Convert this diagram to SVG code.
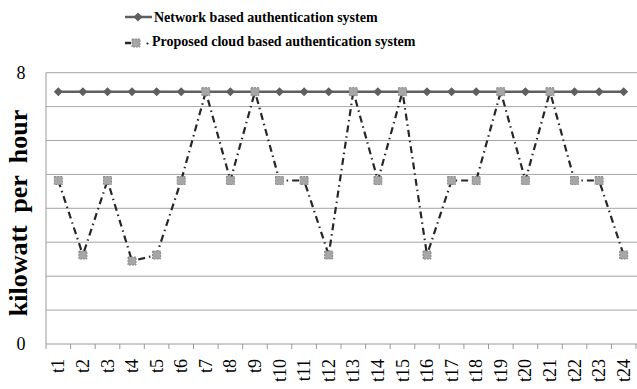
<svg xmlns="http://www.w3.org/2000/svg" xmlns:xlink="http://www.w3.org/1999/xlink" width="637" height="389" viewBox="0 0 637 389">
<style>
.grid{stroke:#a6a6a6;stroke-width:1;fill:none}
.axis{stroke:#9a9a9a;stroke-width:1;fill:none}
.net{stroke:#5f5f5f;stroke-width:2.5;fill:none}
.prop{stroke:#262626;stroke-width:2.2;fill:none;stroke-dasharray:7 4 1.5 4}
.lbl{font-family:"Liberation Serif",serif;font-size:18px;fill:#000}
.leg{font-family:"Liberation Serif",serif;font-size:14px;font-weight:bold;fill:#000}
.ttl{font-family:"Liberation Serif",serif;font-size:26px;font-weight:bold;fill:#000;word-spacing:6px}
</style>
<defs>
<path id="dia" d="M0,-4.5 L4.5,0 L0,4.5 L-4.5,0 Z" fill="#5f5f5f"/>
<rect id="sq" x="-4" y="-4" width="8" height="8" fill="#a6a6a6" stroke="#8a8a8a" stroke-width="1" stroke-dasharray="2 1"/>
</defs>
<rect width="637" height="389" fill="#ffffff"/>
<g id="grid">
<line class="grid" x1="46" y1="72.7" x2="637" y2="72.7"/>
<line class="grid" x1="46" y1="106.6" x2="637" y2="106.6"/>
<line class="grid" x1="46" y1="140.5" x2="637" y2="140.5"/>
<line class="grid" x1="46" y1="174.4" x2="637" y2="174.4"/>
<line class="grid" x1="46" y1="208.3" x2="637" y2="208.3"/>
<line class="grid" x1="46" y1="242.2" x2="637" y2="242.2"/>
<line class="grid" x1="46" y1="276.2" x2="637" y2="276.2"/>
<line class="grid" x1="46" y1="310.1" x2="637" y2="310.1"/>
</g>
<g id="axes">
<line class="axis" x1="46" y1="72.7" x2="46" y2="344"/>
<line class="axis" x1="46" y1="344" x2="637" y2="344"/>
<path class="axis" d="M46,344v5M70.6,344v5M95.2,344v5M119.8,344v5M144.3,344v5M168.9,344v5M193.5,344v5M218.1,344v5M242.7,344v5M267.3,344v5M291.8,344v5M316.4,344v5M341,344v5M365.6,344v5M390.2,344v5M414.8,344v5M439.3,344v5M463.9,344v5M488.5,344v5M513.1,344v5M537.7,344v5M562.3,344v5M586.8,344v5M611.4,344v5M636,344v5"/>
<text class="lbl" x="21" y="79" text-anchor="middle">8</text>
<text class="lbl" x="21" y="350" text-anchor="middle">0</text>
<text class="ttl" x="27" y="213" text-anchor="middle" transform="rotate(-90 27 213)">kilowatt per hour</text>
</g>
<g id="xlabels" class="lbl" text-anchor="end">
<text x="64.3" y="359" transform="rotate(-90 64.3 359)">t1</text>
<text x="88.9" y="359" transform="rotate(-90 88.9 359)">t2</text>
<text x="113.5" y="359" transform="rotate(-90 113.5 359)">t3</text>
<text x="138" y="359" transform="rotate(-90 138 359)">t4</text>
<text x="162.6" y="359" transform="rotate(-90 162.6 359)">t5</text>
<text x="187.2" y="359" transform="rotate(-90 187.2 359)">t6</text>
<text x="211.8" y="359" transform="rotate(-90 211.8 359)">t7</text>
<text x="236.4" y="359" transform="rotate(-90 236.4 359)">t8</text>
<text x="261" y="359" transform="rotate(-90 261 359)">t9</text>
<text x="285.5" y="359" transform="rotate(-90 285.5 359)">t10</text>
<text x="310.1" y="359" transform="rotate(-90 310.1 359)">t11</text>
<text x="334.7" y="359" transform="rotate(-90 334.7 359)">t12</text>
<text x="359.3" y="359" transform="rotate(-90 359.3 359)">t13</text>
<text x="383.9" y="359" transform="rotate(-90 383.9 359)">t14</text>
<text x="408.5" y="359" transform="rotate(-90 408.5 359)">t15</text>
<text x="433" y="359" transform="rotate(-90 433 359)">t16</text>
<text x="457.6" y="359" transform="rotate(-90 457.6 359)">t17</text>
<text x="482.2" y="359" transform="rotate(-90 482.2 359)">t18</text>
<text x="506.8" y="359" transform="rotate(-90 506.8 359)">t19</text>
<text x="531.4" y="359" transform="rotate(-90 531.4 359)">t20</text>
<text x="556" y="359" transform="rotate(-90 556 359)">t21</text>
<text x="580.5" y="359" transform="rotate(-90 580.5 359)">t22</text>
<text x="605.1" y="359" transform="rotate(-90 605.1 359)">t23</text>
<text x="629.7" y="359" transform="rotate(-90 629.7 359)">t24</text>
</g>
<g id="connectors">
<g id="network-series">
<line class="net" x1="58.3" y1="91.7" x2="623.7" y2="91.7"/>
<use xlink:href="#dia" x="58.3" y="91.7"/><use xlink:href="#dia" x="82.9" y="91.7"/><use xlink:href="#dia" x="107.5" y="91.7"/><use xlink:href="#dia" x="132" y="91.7"/><use xlink:href="#dia" x="156.6" y="91.7"/><use xlink:href="#dia" x="181.2" y="91.7"/><use xlink:href="#dia" x="205.8" y="91.7"/><use xlink:href="#dia" x="230.4" y="91.7"/><use xlink:href="#dia" x="255" y="91.7"/><use xlink:href="#dia" x="279.5" y="91.7"/><use xlink:href="#dia" x="304.1" y="91.7"/><use xlink:href="#dia" x="328.7" y="91.7"/><use xlink:href="#dia" x="353.3" y="91.7"/><use xlink:href="#dia" x="377.9" y="91.7"/><use xlink:href="#dia" x="402.5" y="91.7"/><use xlink:href="#dia" x="427" y="91.7"/><use xlink:href="#dia" x="451.6" y="91.7"/><use xlink:href="#dia" x="476.2" y="91.7"/><use xlink:href="#dia" x="500.8" y="91.7"/><use xlink:href="#dia" x="525.4" y="91.7"/><use xlink:href="#dia" x="550" y="91.7"/><use xlink:href="#dia" x="574.5" y="91.7"/><use xlink:href="#dia" x="599.1" y="91.7"/><use xlink:href="#dia" x="623.7" y="91.7"/>
</g>
<g id="proposed-series">
<polyline class="prop" points="58.3,180.5 82.9,255 107.5,180.5 132,261 156.6,255 181.2,180.5 205.8,91.7 230.4,180.5 255,91.7 279.5,180.5 304.1,180.5 328.7,255 353.3,91.7 377.9,180.5 402.5,91.7 427,255 451.6,180.5 476.2,180.5 500.8,91.7 525.4,180.5 550,91.7 574.5,180.5 599.1,180.5 623.7,255"/>
<use xlink:href="#sq" x="58.3" y="180.5"/><use xlink:href="#sq" x="82.9" y="255"/><use xlink:href="#sq" x="107.5" y="180.5"/><use xlink:href="#sq" x="132" y="261"/><use xlink:href="#sq" x="156.6" y="255"/><use xlink:href="#sq" x="181.2" y="180.5"/><use xlink:href="#sq" x="205.8" y="91.7"/><use xlink:href="#sq" x="230.4" y="180.5"/><use xlink:href="#sq" x="255" y="91.7"/><use xlink:href="#sq" x="279.5" y="180.5"/><use xlink:href="#sq" x="304.1" y="180.5"/><use xlink:href="#sq" x="328.7" y="255"/><use xlink:href="#sq" x="353.3" y="91.7"/><use xlink:href="#sq" x="377.9" y="180.5"/><use xlink:href="#sq" x="402.5" y="91.7"/><use xlink:href="#sq" x="427" y="255"/><use xlink:href="#sq" x="451.6" y="180.5"/><use xlink:href="#sq" x="476.2" y="180.5"/><use xlink:href="#sq" x="500.8" y="91.7"/><use xlink:href="#sq" x="525.4" y="180.5"/><use xlink:href="#sq" x="550" y="91.7"/><use xlink:href="#sq" x="574.5" y="180.5"/><use xlink:href="#sq" x="599.1" y="180.5"/><use xlink:href="#sq" x="623.7" y="255"/>
</g>
</g>
<g id="legend">
<line class="net" x1="125" y1="17" x2="152" y2="17"/>
<use xlink:href="#dia" x="138" y="17"/>
<text class="leg" x="154" y="22">Network based authentication system</text>
<line x1="125" y1="43" x2="131" y2="43" stroke="#262626" stroke-width="2.5"/>
<use xlink:href="#sq" x="136" y="43"/>
<circle cx="147.5" cy="43.5" r="1.1" fill="#262626"/>
<text class="leg" x="152" y="46">Proposed cloud based authentication system</text>
</g>
</svg>
